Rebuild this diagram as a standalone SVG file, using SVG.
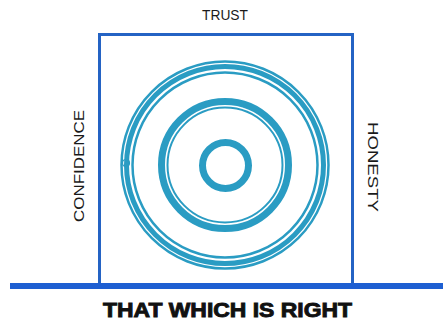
<svg xmlns="http://www.w3.org/2000/svg" width="443" height="321" viewBox="0 0 443 321">
  <style>
    .lbl { font-family: "Liberation Sans", Arial, sans-serif; font-size: 15px; fill: #1a1a1a; }
    .ring { fill: none; stroke: #2a9cc3; }
    .title { font-family: "Liberation Sans", Arial, sans-serif; font-size: 20px; font-weight: bold; fill: #111; stroke: #111; stroke-width: 0.9; }
  </style>
  <rect width="443" height="321" fill="#ffffff"/>
  <g id="frame">
    <rect x="99.5" y="34.5" width="253" height="251" fill="none" stroke="#2463c4" stroke-width="3"/>
  </g>
  <g id="ground">
    <rect x="10" y="283" width="433" height="6" fill="#1e5fd2"/>
  </g>
  <g id="circles">
    <circle class="ring" cx="225" cy="165" r="103.5" stroke-width="2.5"/>
    <circle class="ring" cx="225" cy="165" r="98.5" stroke-width="5"/>
    <circle class="ring" cx="225" cy="165" r="92.5" stroke-width="2.5"/>
    <circle class="ring" cx="225" cy="165" r="63.5" stroke-width="7"/>
    <circle class="ring" cx="225" cy="165" r="57.5" stroke-width="2"/>
    <circle class="ring" cx="225.5" cy="165.5" r="23" stroke-width="7"/>
    <circle class="ring" cx="126" cy="163" r="3.5" stroke-width="1.2"/>
  </g>
  <g id="trust">
    <text class="lbl" x="225" y="20" text-anchor="middle" textLength="46" lengthAdjust="spacingAndGlyphs">TRUST</text>
  </g>
  <g id="confidence">
    <text class="lbl" transform="translate(84,166) rotate(-90)" x="0" y="0" text-anchor="middle" font-size="16.5" textLength="112" lengthAdjust="spacingAndGlyphs">CONFIDENCE</text>
  </g>
  <g id="honesty">
    <text class="lbl" transform="translate(368,167) rotate(90)" x="0" y="0" text-anchor="middle" font-size="16.5" textLength="90" lengthAdjust="spacingAndGlyphs">HONESTY</text>
  </g>
  <g id="foundation">
    <text class="title" x="227.5" y="316.5" text-anchor="middle" textLength="249" lengthAdjust="spacingAndGlyphs">THAT WHICH IS RIGHT</text>
  </g>
</svg>
